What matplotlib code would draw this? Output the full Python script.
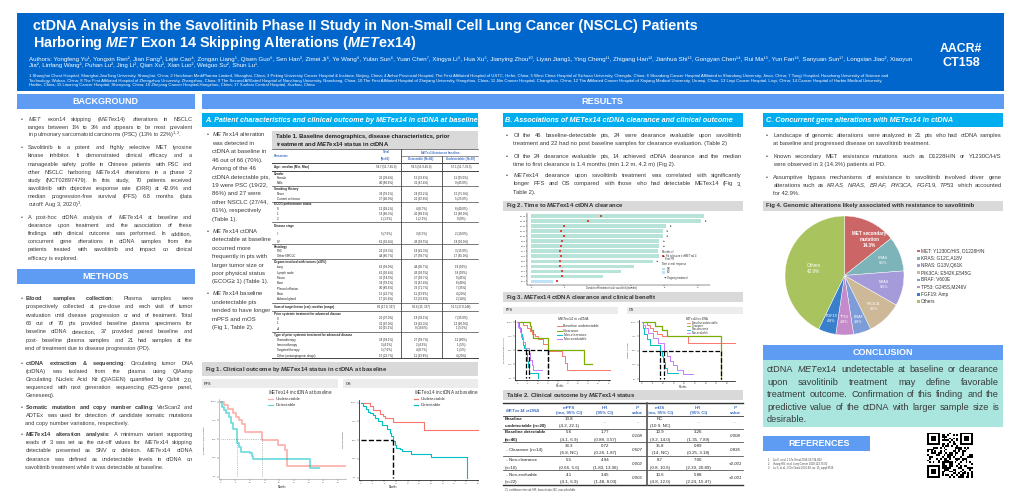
import numpy as np
import matplotlib
matplotlib.use('Agg')
import matplotlib.pyplot as plt
from matplotlib.patches import Rectangle

plt.rcParams['font.family'] = ['Liberation Sans', 'DejaVu Sans']
plt.rcParams['mathtext.fontset'] = 'custom'
plt.rcParams['mathtext.rm'] = 'Liberation Sans'
plt.rcParams['mathtext.it'] = 'Liberation Sans:italic'
plt.rcParams['mathtext.bf'] = 'Liberation Sans:bold'
plt.rcParams['mathtext.bfit'] = 'Liberation Sans:bold:italic'
plt.rcParams['mathtext.default'] = 'regular'

# ---------------- data ----------------
# Fig 1 (baseline METex14 in ctDNA), KM steps: months, survival %
pfs1_und_t = [0, 1.1, 2.6, 4.3, 5.2, 6.4, 7.2, 8.3, 14.0, 19.7, 21.9, 22.5, 42.4]
pfs1_und_s = [100, 95, 90, 85, 80, 75, 70, 60, 49, 42, 36, 14, 14]
pfs1_det_t = [0, 0.5, 1.1, 1.8, 2.7, 3.4, 4.1, 5.5, 5.7, 6.4, 6.8, 10.0, 10.6, 11.1, 30.5, 33.6]
pfs1_det_s = [100, 93, 89, 85, 80, 72, 63, 49, 45, 40, 33, 31, 28, 24, 12, 12]
os1_und_t = [0, 3.2, 4.3, 6.6, 7.5, 8.3, 10.9, 21.6, 40.0]
os1_und_s = [100, 95, 90, 85, 82, 79, 74, 63, 63]
os1_det_t = [0, 0.9, 1.8, 2.6, 3.2, 4.3, 4.9, 6.0, 7.4, 8.8, 10.0, 10.5, 10.9, 11.7, 12.2, 13.4, 14.0, 17.2, 23.8, 36.1]
os1_det_s = [100, 95, 91, 88, 86, 83, 80, 75, 70, 65, 60, 55, 49, 43, 40, 38, 35, 32, 28, 0]

# Fig 3 (ctDNA clearance groups)
pfs3_und_t = [0, 3.0, 4.6, 6.2, 7.0, 8.7, 10.3, 12.8, 15.2, 21.8, 23.4, 24.3, 45.6]
pfs3_und_s = [100, 95, 90, 85, 80, 75, 70, 62, 48, 39, 28, 14, 14]
pfs3_clr_t = [0, 6.2, 6.9, 7.9, 15.2, 32.8, 36.6]
pfs3_clr_s = [100, 92.9, 85.7, 71.4, 50, 25, 25]
pfs3_ncl_t = [0, 1.0, 1.6, 2.1, 2.6, 3.4, 4.1, 4.6, 5.4, 5.9, 10.3]
pfs3_ncl_s = [100, 90, 80, 70, 60, 55, 45, 30, 20, 10, 0]
pfs3_nev_t = [0, 0.5, 1.1, 1.8, 2.6, 3.8, 5.7, 6.2, 7.0, 7.9, 12.0]
pfs3_nev_s = [100, 91, 82, 73, 64, 55, 45, 32, 23, 14, 14]
os3_und_t = [0, 2.3, 3.9, 5.5, 7.0, 9.4, 21.9, 43.7]
os3_und_s = [100, 95, 90, 85, 80, 75, 63, 63]
os3_clr_t = [0, 6.25, 9.4, 11.7, 37.0]
os3_clr_s = [100, 93, 86, 75, 0]
os3_ncl_t = [0, 0.5, 1.1, 2.3, 3.9, 8.6, 9.4, 10.2, 10.9, 12.0, 17.2]
os3_ncl_s = [100, 90, 80, 70, 60, 50, 40, 30, 20, 10, 10]
os3_nev_t = [0, 0.5, 1.6, 3.1, 5.5, 7.8, 10.5, 11.7, 13.3, 14.8, 16.4, 19.5, 24.2]
os3_nev_s = [100, 95, 90, 82, 73, 64, 50, 41, 32, 25, 16, 8, 8]

# Fig 2 swimmer plot
sw_pt = ['Pt %d' % i for i in range(14, 0, -1)]
sw_end = [10.4, 10.2, 8.1, 7.9, 7.9, 7.7, 7.7, 7.6, 7.7, 7.3, 6.2, 5.4, 4.3, 1.3]
sw_clear = [4.2, 3.4, 1.95, 1.8, 1.95, 1.85, 1.8, 1.75, 1.8, 1.75, 1.75, 1.85, 1.85, 1.55]
sw_pr = [2.1, 1.8, 2.05, 1.8, 1.95, 1.85, 1.8, 1.75, 1.8, 1.75, 1.75, 1.85, 1.85, 1.8]
sw_resp = ['PR'] * 13 + ['SD']
sw_ongoing = [1, 1, 1, 1, 1, 1, 1, 0, 1, 1, 0, 0, 0, 0]

# Fig 4 pie
pie_names = ['MET secondary\nmutation', 'KRAS', 'NRAS', 'PIK3CA', 'BRAF', 'TP53', 'FGF19', 'Others']
pie_pct = [14.3, 9.5, 9.5, 9.5, 4.8, 4.8, 4.8, 42.9]
pie_legend = ['MET: Y1230C/H/S, D1228H/N', 'KRAS: G12C,A18V', 'NRAS: G13V,Q61K',
              'PIK3CA: E542K,E545G', 'BRAF: V600E', 'TP53: G245S,M246V', 'FGF19: Amp', 'Others']
pie_colors = ['#CC6666', '#7DB4B9', '#A59BDA', '#CDB998', '#7D9CD8', '#C48AC9', '#3A7FCC', '#A9C35F']

# Table 1
t1_param = ['Age : median (Min, Max)', 'Gender', 'Female', 'Male', 'Smoking History', 'Never',
            'Current or former', 'ECOG performance status', '0', '1', '2', 'Disease stage', 'III', 'IV',
            'Histology', 'PSC', 'Other NSCLC', 'Organs involved with tumors (≥30%)', 'Lung', 'Lymph node',
            'Pleura', 'Bone', 'Pleural effusion', 'Brain', 'Adrenal gland',
            'Sum of target lesion (cm): median (range)', 'Prior systemic treatment for advanced disease',
            '0', '1', '≥2', 'Type of prior systemic treatment for advanced disease', 'Chemotherapy',
            'Immunotherapy', 'Targeted therapy', 'Other (antiangiogenic drugs)']
t1_total = ['58.7 (51.7-65.0)', '', '26 (39.4%)', '40 (60.6%)', '', '39 (59.1%)', '27 (40.9%)', '',
            '12 (18.2%)', '53 (80.3%)', '1 (1.5%)', '', '5 (7.6%)', '61 (92.4%)', '', '22 (33.3%)',
            '44 (66.7%)', '', '62 (93.9%)', '61 (92.4%)', '36 (54.5%)', '39 (59.1%)', '40 (60.6%)',
            '15 (22.7%)', '17 (25.8%)', '86 (17.0, 327)', '', '25 (37.9%)', '31 (47.0%)', '10 (15.1%)',
            '', '38 (58.1%)', '3 (4.5%)', '5 (7.6%)', '15 (22.7%)']
t1_det = ['59.5 (51.9-65.0)', '', '15 (32.6%)', '31 (67.4%)', '', '24 (52.2%)', '22 (47.8%)', '',
          '4 (8.7%)', '41 (89.1%)', '1 (2.2%)', '', '3 (6.5%)', '43 (93.5%)', '', '19 (41.3%)',
          '27 (58.7%)', '', '44 (95.7%)', '43 (93.5%)', '27 (58.7%)', '31 (67.4%)', '33 (71.7%)',
          '11 (23.9%)', '15 (32.6%)', '95.6 (15, 327)', '', '18 (39.1%)', '19 (41.3%)', '9 (19.6%)',
          '', '27 (58.7%)', '2 (4.3%)', '4 (8.7%)', '11 (23.9%)']
t1_und = ['57.1 (51.7-70.5)', '', '11 (55.0%)', '9 (45.0%)', '', '15 (75.0%)', '5 (25.0%)', '',
          '8 (40.0%)', '12 (60.0%)', '0 (0%)', '', '2 (10.0%)', '18 (90.0%)', '', '3 (15.0%)',
          '17 (85.0%)', '', '18 (90%)', '18 (90%)', '9 (45%)', '8 (40%)', '7 (35%)', '4 (20%)',
          '2 (10%)', '51.5 (17.0,148)', '', '7 (35.0%)', '12 (60.0%)', '1 (5.0%)', '', '12 (60%)',
          '1 (5%)', '1 (5%)', '4 (20%)']

# Table 2
t2_group = [['Baseline', 'undetectable (n=20)'], ['Baseline detectable', '(n=46)'],
            [' - Clearance (n=14)'], [' - Non-clearance', '(n=10)'], [' - Non-evaluable', '(n=22)']]
t2_cols = [['mPFS', '(mo, 95% CI)'], ['HR', '(95% CI)'], ['P', 'value'],
           ['mOS', '(mo, 95% CI)'], ['HR', '(95% CI)'], ['P', 'value']]
t2_mpfs = [['13.8', '(4.2, 22.1)'], ['5.6', '(4.1, 6.9)'], ['33.3', '(6.8, NC)'],
           ['5.5', '(0.66, 5.6)'], ['4.1', '(4.1, 6.9)']]
t2_hr_pfs = [['-'], ['1.77', '(0.88, 3.57)'], ['0.72', '(0.28, 1.87)'],
             ['4.94', '(1.83, 13.36)'], ['3.45', '(1.48, 8.03)']]
t2_p_pfs = ['-', '0.108', '0.507', '0.002', '0.006']
t2_mos = [['NC', '(10.9, NC)'], ['10.9', '(9.2, 14.0)'], ['35.8', '(14, NC)'],
          ['8.7', '(0.8, 10.6)'], ['10.6', '(4.8, 12.0)']]
t2_hr_os = [['-'], ['3.26', '(1.35, 7.89)'], ['0.89', '(0.25, 3.18)'],
            ['7.06', '(2.39, 20.89)'], ['5.88', '(2.24, 15.47)']]
t2_p_os = ['-', '0.008', '0.835', '<0.001', '<0.001']

# texts
title1 = 'ctDNA Analysis in the Savolitinib Phase II Study in Non-Small Cell Lung Cancer (NSCLC) Patients'
title2 = r'Harboring $\mathbfit{MET}$ Exon 14 Skipping Alterations ($\mathbfit{MET}$ex14)'
authors1 = ('Authors: Yongfeng Yu¹, Yongxin Ren², Jian Fang³, Lejie Cao⁴, Zongan Liang⁵, Qisen Guo⁶, '
            'Sen Han³, Zimei Ji⁶, Ye Wang⁸, Yulan Sun⁶, Yuan Chen⁷, Xingya Li⁹, Hua Xu⁵, Jianying Zhou¹⁰, '
            'Liyan Jiang1, Ying Cheng¹¹, Zhigang Han¹², Jianhua Shi¹³, Gongyan Chen¹⁴, Rui Ma¹⁵, '
            'Yun Fan¹⁶, Sanyuan Sun¹⁷, Longxian Jiao², Xiaoyun')
authors2 = 'Jia², Linfang Wang², Puhan Lu², Jing Li², Qian Xu², Xian Luo², Weiguo Su², Shun Lu¹.'
affil = ['1 Shanghai Chest Hospital, Shanghai JiaoTong University, Shanghai, China; 2 Hutchison MediPharma Limited, '
         'Shanghai, China; 3 Peking University Cancer Hospital & Institute, Beijing, China; 4 Anhui Provincial Hospital, '
         'The First Affiliated Hospital of USTC, Hefei, China; 5 West China Hospital of Sichuan University, Chengdu, China; '
         '6 Shandong Cancer Hospital Affiliated to Shandong University, Jinan, China; 7 Tongji Hospital, Huazhong University of Science and',
         'Technology, Wuhan, China; 8 The First Affiliated Hospital of Zhengzhou University, Zhengzhou, China; 9 The Second '
         'Affiliated Hospital of Nanchang University, Nanchang, China; 10 The First Affiliated Hospital of Zhejiang University, '
         'Hangzhou, China; 11 Jilin Cancer Hospital, Changchun, China; 12 The Affiliated Cancer Hospital of Xinjiang Medical '
         'University, Urumqi, China; 13 Linyi Cancer Hospital, Linyi, China; 14 Cancer Hospital of Harbin Medical University,',
         'Harbin, China; 15 Liaoning Cancer Hospital, Shenyang, China; 16 Zhejiang Cancer Hospital,Hangzhou, China; '
         '17 Xuzhou Central Hospital, Xuzhou, China']

bg_paras = [
    [r'$\mathit{MET}$ exon14 skipping ($\mathit{MET}$ex14) alterations in NSCLC',
     'ranges between 1% to 3% and appears to be most prevalent',
     r'in pulmonary sarcomatoid carcinoma (PSC) (13% to 22%)$^{1,2}$.'],
    ['Savolitinib is a potent and highly selective MET tyrosine',
     'kinase inhibitor. It demonstrated clinical efficacy and a',
     'manageable safety profile in Chinese patients with PSC and',
     r'other NSCLC harboring $\mathit{MET}$ex14 alterations in a phase 2',
     'study (NCT02897479). In this study, 70 patients received',
     'savolitinib with objective response rate (ORR) at 42.9% and',
     'median progression-free survival (PFS) 6.8 months (data',
     r'cutoff: Aug 3, 2020)$^{3}$.'],
    [r'A post-hoc ctDNA analysis of $\mathit{MET}$ex14 at baseline and',
     'clearance upon treatment and the association of these',
     'findings with clinical outcome was performed. In addition,',
     'concurrent gene alterations in ctDNA samples from the',
     'patients treated with savolitinib and impact on clinical',
     'efficacy is explored.']]
me_paras = [
    [r'$\mathbf{Blood}$ $\mathbf{samples}$ $\mathbf{collection}$: Plasma samples were',
     'prospectively collected at pre-dose and each visit of tumor',
     'evaluation until disease progression or end of treatment. Total',
     '66 out of 70 pts provided baseline plasma specimens for',
     'baseline ctDNA detection, 37 provided paired baseline and',
     'post- baseline plasma samples and 21 had samples at the',
     'end of treatment due to disease progression (PD).'],
    [r'$\mathbf{ctDNA}$ $\mathbf{extraction}$ $\mathbf{&}$ $\mathbf{sequencing}$: Circulating tumor DNA',
     '(ctDNA) was isolated from the plasma using QIAamp',
     'Circulating Nucleic Acid Kit (QIAGEN) quantified by Qubit 2.0,',
     'sequenced with next generation sequencing (425-gene panel,',
     'Geneseeq).'],
    [r'$\mathbf{Somatic}$ $\mathbf{mutation}$ $\mathbf{and}$ $\mathbf{copy}$ $\mathbf{number}$ $\mathbf{calling}$: VarScan2 and',
     'ADTEx was used for detection of candidate somatic mutations',
     'and copy number variations, respectively.'],
    [r'$\mathbfit{MET}\mathbf{ex14}$ $\mathbf{alteration}$ $\mathbf{analysis}$: A minimum variant supporting',
     r'reads of 3 was set as the cut-off values for $\mathit{MET}$ex14 skipping',
     r'detectable presented as SNV or deletion. $\mathit{MET}$ex14 ctDNA',
     'clearance was defined as undetectable levels in ctDNA on',
     'savolitinib treatment while it was detectable at baseline.']]
a_paras = [
    [r'$\mathit{MET}$ex14 alteration', 'was detected in', 'ctDNA at baseline in', '46 out of 66 (70%).',
     'Among of the 46', 'ctDNA detectable pts,', '19 were PSC (19/22,', '86%) and 27 were',
     'other NSCLC (27/44,', '61%), respectively', '(Table 1).'],
    [r'$\mathit{MET}$ex14 ctDNA', 'detectable at baseline', 'occurred more', 'frequently in pts with',
     'larger tumor size or', 'poor physical status', '(ECOG≥ 1) (Table 1).'],
    [r'$\mathit{MET}$ex14 baseline', 'undetectable pts', 'tended to have longer', 'mPFS and mOS',
     '(Fig 1, Table 2).']]
b_paras = [
    ['Of the 46 baseline-detectable pts, 24 were clearance evaluable upon savolitinib',
     'treatment and 22 had no post baseline samples for clearance evaluation. (Table 2)'],
    ['Of the 24 clearance evaluable pts, 14 achieved ctDNA clearance and the median',
     'time to first clearance is 1.4 months (min 1.2 m, 4.2 m) (Fig 2).'],
    [r'$\mathit{MET}$ex14 clearance upon savolitinib treatment was correlated with significantly',
     'longer PFS and OS compared with those who had detectable METex14 (Fig 3,',
     'Table 2).']]
c_paras = [
    ['Landscape of genomic alterations were analyzed in 21 pts who had ctDNA samples',
     'at baseline and progressed disease on savolitinib treatment.'],
    ['Known secondary MET resistance mutations such as D1228H/N or Y1230C/H/S',
     'were observed in 3 (14.3%) patients at PD.'],
    ['Assumptive bypass mechanisms of resistance to savolitinib involved driver gene',
     r'alterations such as $\mathit{KRAS}$, $\mathit{NRAS}$, $\mathit{BRAF}$, $\mathit{PIK3CA}$, '
     r'$\mathit{FGF19}$, $\mathit{TP53}$ which accounted',
     'for 42.9%.']]
concl = [r'ctDNA $\mathit{MET}$ex14 undetectable at baseline or clearance',
         'upon savolitinib treatment may define favorable',
         'treatment outcome. Confirmation of this finding and the',
         'predictive value of the ctDNA with larger sample size is',
         'desirable.']
refs = ['Liu X, et al. J Clin Oncol 2016;34:794-802',
        'Vuong HG, et al. Lung Cancer 2018;123:76-82',
        'Lu S, et al. J Clin Oncol 2020;38, no. 15_suppl 9519.']

# ---------------- canvas ----------------
W, H = 1020, 493
fig = plt.figure(figsize=(W / 100, H / 100), dpi=100)
bg = fig.add_axes([0, 0, 1, 1])
bg.set_xlim(0, W)
bg.set_ylim(H, 0)
bg.set_autoscale_on(False)
bg.axis('off')
R = fig.canvas.get_renderer()

TXT = '#3a3a3a'
DARK = '#0066CC'
BAR = '#5E9CF3'
CYAN = '#00AEEF'
GRAY = '#D9D9D9'
LGRAY = '#ECECEC'
TBLUE = '#3D6FC4'
RED, GREEN, TEAL, PURPLE = '#F8766D', '#7CAE00', '#00BFC4', '#C77CFF'


def box(x0, y0, x1, y1, color):
    bg.add_patch(Rectangle((x0, y0), x1 - x0, y1 - y0, facecolor=color, edgecolor='none'))


def width(t):
    return t.get_window_extent(renderer=R).width


def fit(x0, x1, y, s, center=False, **kw):
    # font size chosen so the text spans x0..x1
    t = bg.text(x0, y, s, fontsize=10, va='center', **kw)
    t.set_fontsize(10 * (x1 - x0) / width(t))
    if center:
        t.set_x((x0 + x1) / 2)
        t.set_ha('center')
    return t


def block_size(blocks, w):
    widest = 0
    for lines in blocks:
        for s in lines[:-1]:
            t = bg.text(0, 0, s, fontsize=10)
            widest = max(widest, width(t))
            t.remove()
    return 10 * w / widest * 0.96


def para(lines, x0, x1, yc, dy, size, bullet=None, justify=True, color=TXT):
    off = 0.46 * size
    for i, s in enumerate(lines):
        y = yc + i * dy + off
        words = s.split()
        if justify and i < len(lines) - 1 and len(words) > 1:
            ts = [bg.text(x0, y, w, fontsize=size, color=color, va='baseline') for w in words]
            ws = [width(t) for t in ts]
            gap = (x1 - x0 - sum(ws)) / (len(words) - 1)
            x = x0
            for t, w in zip(ts, ws):
                t.set_x(x)
                x += w + gap
        else:
            bg.text(x0, y, s, fontsize=size, color=color, va='baseline')
    if bullet is not None:
        bg.text(bullet, yc + off, '•', fontsize=size * 0.9, color=color, va='baseline')


def heading(x0, y0, x1, y1, s, tx0, tx1):
    box(x0, y0, x1, y1, BAR)
    fit(tx0, tx1, (y0 + y1) / 2 + 0.3, s, center=True, color='white', fontweight='bold')


def figbar(x0, y0, x1, y1, s, tx1, color=GRAY):
    box(x0, y0, x1, y1, color)
    fit(x0 + 3, tx1, (y0 + y1) / 2, s, color='#333333', fontweight='bold')


# ---------------- header ----------------
box(17, 13, 1004, 91, DARK)
fit(33, 694, 26, title1, color='white', fontweight='bold')
t = bg.text(33, 43.5, title2, color='white', fontweight='bold', va='center',
            fontsize=bg.texts[-1].get_fontsize())
a1 = fit(29, 908, 58.5, authors1, color='white')
bg.text(29, 65.5, authors2, color='white', fontsize=a1.get_fontsize(), va='center')
f1 = fit(29, 906, 76.3, affil[0], color='white')
fit(29, 906, 80.6, affil[1], color='white')
bg.text(29, 85, affil[2], color='white', fontsize=f1.get_fontsize(), va='center')
fit(940, 982, 48.5, 'AACR#', center=True, color='white', fontweight='bold')
fit(942, 980, 62.5, 'CT158', center=True, color='white', fontweight='bold')

# ---------------- left column ----------------
heading(17, 94, 195, 109, 'BACKGROUND', 72.7, 139)
heading(17, 269, 195, 284, 'METHODS', 82.7, 128.7)
sz = block_size(bg_paras + me_paras, 164)
for lines, y0 in zip(bg_paras, [119, 147.3, 216.7]):
    para(lines, 27.7, 192.3, y0, 8.2, sz, bullet=20.5)
for lines, y0, dy in zip(me_paras, [298.3, 362.7, 406.7, 434], [8.3, 8.15, 8.0, 8.3]):
    para(lines, 25.5, 193, y0, dy, sz, bullet=20.5)

# ---------------- results ----------------
heading(202, 94, 1004, 109, 'RESULTS', 581.7, 623.3)
box(202, 113.3, 478, 126.7, CYAN)
fit(205, 475, 120.2, r'A. Patient characteristics and clinical outcome by METex14 in ctDNA at baseline',
    color='white', fontweight='bold', fontstyle='italic')
box(502.7, 113.3, 743.3, 126.7, CYAN)
fit(505, 735, 120.2, 'B. Associations of METex14 ctDNA clearance and clinical outcome',
    color='white', fontweight='bold', fontstyle='italic')
box(763.3, 113, 1003.3, 126.7, CYAN)
fit(766, 954, 120.0, 'C. Concurrent gene alterations with METex14 in ctDNA',
    color='white', fontweight='bold', fontstyle='italic')

# A text
tmp = bg.text(0, 0, 'tended to have longer', fontsize=10)
asz = 10 * 59 / width(tmp)
tmp.remove()
for lines, y0 in zip(a_paras, [134.3, 230.7, 293.3]):
    para(lines, 211.7, 272, y0, 8.45, asz, bullet=206.3, justify=False)

# B and C text
bsz = block_size(b_paras + c_paras, 228.4)
for lines, y0 in zip(b_paras, [135, 155.7, 175]):
    para(lines, 513.3, 741.7, y0, 8.3, bsz, bullet=506)
for lines, y0 in zip(c_paras, [135, 156, 176.7]):
    para(lines, 773.3, 1001.7, y0, 8.3, bsz, bullet=766)

# ---------------- Table 1 ----------------
t1_y = [167.3, 174, 178.4, 183.3, 189, 194.3, 199.3, 204.3, 209.3, 214.3, 219.3, 226, 234, 241.7,
        246.7, 251.3, 256, 262.3, 267.3, 272.6, 277.9, 283.2, 288.5, 293.8, 299.1, 307.3, 313.7,
        318.5, 323.5, 328.5, 334.7, 339.6, 344.9, 350.2, 355.5]
t1_lines = [149.3, 163.3, 170.5, 186, 202, 222.3, 243.8, 259.3, 302.5, 311.3, 331.5, 358.3]
box(272, 131, 478, 149.3, GRAY)
h1 = fit(276, 451.7, 136.7, 'Table 1. Baseline demographics, disease characteristics, prior',
         color='#222222', fontweight='bold')
bg.text(276, 144, r'treatment and $\mathbfit{MET}$ex14 status in ctDNA', color='#222222',
        fontweight='bold', fontsize=h1.get_fontsize(), va='center')
hs = 2.2
bg.text(274, 155.7, 'Parameter', color=TBLUE, fontsize=hs, fontweight='bold', va='center')
bg.text(386, 152.3, 'Total', color=TBLUE, fontsize=hs, fontweight='bold', va='center', ha='center')
bg.text(386, 159, '(N=66)', color=TBLUE, fontsize=hs, fontweight='bold', va='center', ha='center')
bg.text(440, 152.3, r'$\mathbfit{MET}$ex14 status at baseline', color=TBLUE, fontsize=hs,
        fontweight='bold', va='center', ha='center')
bg.text(421, 159, 'Detectable (N=46)', color=TBLUE, fontsize=hs, fontweight='bold', va='center', ha='center')
bg.text(461, 159, 'Undetectable (N=20)', color=TBLUE, fontsize=hs, fontweight='bold', va='center', ha='center')
for yl in t1_lines:
    bg.plot([272, 478], [yl, yl], color='#444444', lw=0.7 if yl in (163.3, 170.5, 358.3) else 0.5)
bg.plot([401, 478], [155.6, 155.6], color='#444444', lw=0.4)
bg.plot([401, 401], [149.3, 358.3], color='#444444', lw=0.6)
bg.plot([442, 442], [155.6, 358.3], color='#444444', lw=0.6)
for i, p in enumerate(t1_param):
    head = t1_total[i] == '' or i in (0, 25)
    bg.text(274 if head else 277, t1_y[i], p, fontsize=2.2, color='#222222',
            fontweight='bold' if head else 'normal', va='center')
    for xc, v in zip([386, 421, 461], [t1_total[i], t1_det[i], t1_und[i]]):
        bg.text(xc, t1_y[i], v, fontsize=2.05, color='#222222', va='center', ha='center')

# ---------------- Fig 1 ----------------
figbar(201.7, 362.3, 478, 375.7, r'Fig 1. Clinical outcome by $\mathbfit{MET}$ex14 status in ctDNA at baseline', 386.7)
box(201.7, 379, 338.3, 388.3, LGRAY)
box(342.7, 379, 478, 388.3, LGRAY)
bg.text(204, 383.8, 'PFS', fontsize=2.8, color='#555555', fontweight='bold', va='center')
bg.text(345.5, 383.8, 'OS', fontsize=2.8, color='#555555', fontweight='bold', va='center')


def km_axes(px0, ppx, xlim, py0, py100, ylim, xticks, spine='#000000'):
    ppy = (py0 - py100) / 100.0
    left = px0 + xlim[0] * ppx
    right = px0 + xlim[1] * ppx
    top = py0 - ylim[1] * ppy
    bottom = py0 - ylim[0] * ppy
    ax = fig.add_axes([left / W, 1 - bottom / H, (right - left) / W, (bottom - top) / H])
    ax.set_xlim(xlim)
    ax.set_ylim(ylim)
    ax.patch.set_alpha(0)
    for sp in ['top', 'right']:
        ax.spines[sp].set_visible(False)
    for sp in ['left', 'bottom']:
        ax.spines[sp].set_color(spine)
        ax.spines[sp].set_linewidth(0.5)
    ax.tick_params(labelsize=1.6, length=1.2, width=0.3, pad=0.6, colors='#444444')
    ax.set_xticks(xticks)
    ax.set_yticks([0, 25, 50, 75, 100])
    ax.set_yticklabels(['0%', '25%', '50%', '75%', '100%'])
    return ax


def median(t, s):
    for ti, si in zip(t, s):
        if si <= 50:
            return ti
    return None


def km(ax, curves, ls='--', mcolor='black', mlw=0.9):
    meds = []
    for t, s, c, lw, al in curves:
        ax.step(t, s, where='post', color=c, lw=lw, alpha=al, clip_on=False)
        m = median(t, s)
        if m is not None:
            meds.append(m)
    if meds:
        ax.plot([0, max(meds)], [50, 50], ls=ls, color=mcolor, lw=mlw)
        for m in meds:
            ax.plot([m, m], [50, 0], ls=ls, color=mcolor, lw=mlw)


ax = km_axes(220.7, 2.933, (-0.6, 42.6), 476.7, 401.7, (-3.5, 104), range(0, 41, 5), spine='#AAAAAA')
km(ax, [(pfs1_und_t, pfs1_und_s, RED, 1.3, 0.55), (pfs1_det_t, pfs1_det_s, TEAL, 1.3, 0.55)],
   ls=':', mcolor='#888888', mlw=0.5)
ax = km_axes(360.7, 2.933, (-0.6, 40.1), 477.7, 402.7, (-3.5, 104), range(0, 41, 4))
km(ax, [(os1_und_t, os1_und_s, RED, 0.8, 1), (os1_det_t, os1_det_s, TEAL, 0.8, 1)], mlw=1.0)
bg.text(205, 440, 'Progression-Free Survival', rotation=90, fontsize=1.7, color='#333333', ha='center', va='center')
bg.text(343.5, 440, 'Overall Survival', rotation=90, fontsize=1.7, color='#333333', ha='center', va='center')
bg.text(282, 487, 'Months', fontsize=1.9, color='#333333', ha='center', va='center')
bg.text(392.7, 487, 'Months', fontsize=1.9, color='#333333', ha='center', va='center')
for lx, tx in [(268.3, 275.3), (414, 420.7)]:
    bg.text(lx, 392, r'$\mathit{MET}$ex14 in ctDNA at baseline', fontsize=3.3, color='#333333', va='center')
    for yy, c, lab, al in [(399.3, RED, 'Undetectable', 0.6 if lx < 300 else 1),
                           (405, TEAL, 'Detectable', 0.6 if lx < 300 else 1)]:
        bg.plot([lx, lx + 4.5], [yy, yy], color=c, lw=0.9, alpha=al)
        bg.text(tx, yy, lab, fontsize=3.1, color='#333333', va='center')

# ---------------- Fig 2 ----------------
figbar(502.7, 201, 743.3, 210.7, r'Fig 2. Time to $\mathbfit{MET}$ex14 ctDNA clearance', 622.7)
ax2 = fig.add_axes([527 / W, 1 - 284.5 / H, (710 - 527) / W, 71.5 / H])
ppm = 16.67
ax2.set_xlim(-(531 - 527) / ppm, (710 - 531) / ppm)
ax2.set_ylim(14.6, 0.4)
ax2.patch.set_alpha(0)
rows = np.arange(1, 15)
ax2.barh(rows, sw_end, height=0.72, color=['#B7E3D8' if r == 'PR' else '#BFE2F6' for r in sw_resp])
ax2.scatter(sw_clear, rows, marker='s', s=1.6, color='#E0453A', lw=0, zorder=3)
ax2.scatter(sw_pr, rows, marker='P', s=2.2, color='#1B9E77', lw=0, zorder=4)
for r, e, on in zip(rows, sw_end, sw_ongoing):
    if on:
        ax2.annotate('', xy=(e + 0.5, r), xytext=(e + 0.08, r),
                     arrowprops=dict(arrowstyle='->', lw=0.35, color='#333333', mutation_scale=1.5))
ax2.set_yticks(rows)
ax2.set_yticklabels(sw_pt)
ax2.set_xticks(range(0, 11, 2))
for sp in ['top', 'right']:
    ax2.spines[sp].set_visible(False)
for sp in ['left', 'bottom']:
    ax2.spines[sp].set_linewidth(0.3)
ax2.tick_params(labelsize=1.5, length=1, width=0.3, pad=0.5)
bg.text(611.7, 288.3, 'Duration of treatment with savolitinib (months)', fontsize=1.8, color='#333333',
        ha='center', va='center')
lg = 1.8
bg.text(661.7, 251.8, 'Months of', fontsize=lg, color='#333333', va='center')
bg.scatter([663], [255.6], marker='s', s=1.6, color='#E0453A', lw=0)
bg.text(665.5, 255.6, r'First clearance of $\mathit{MET}$ex14', fontsize=lg, color='#333333', va='center')
bg.scatter([663], [259.4], marker='P', s=2.2, color='#1B9E77', lw=0)
bg.text(665.5, 259.4, 'First PR', fontsize=lg, color='#333333', va='center')
bg.text(661.7, 264.3, 'Best overall response', fontsize=lg, color='#333333', va='center')
box(662, 267.6, 665, 270.2, '#B7E3D8')
bg.text(666.5, 268.9, 'PR', fontsize=lg, color='#333333', va='center')
box(662, 271.1, 665, 273.7, '#BFE2F6')
bg.text(666.5, 272.4, 'SD', fontsize=lg, color='#333333', va='center')
bg.annotate('', xy=(666.5, 277.7), xytext=(661.7, 277.7),
            arrowprops=dict(arrowstyle='->', lw=0.35, color='#333333', mutation_scale=1.5))
bg.text(667.5, 277.7, 'Ongoing treatment', fontsize=lg, color='#333333', va='center')

# ---------------- Fig 3 ----------------
figbar(502.7, 292, 743.3, 302.3, r'Fig 3. $\mathbfit{MET}$ex14 ctDNA clearance and clinical benefit', 655)
box(502.7, 306.7, 618.3, 314, LGRAY)
box(626.7, 306.7, 743.3, 314, LGRAY)
bg.text(505.3, 310.4, 'PFS', fontsize=2.6, color='#555555', fontweight='bold', va='center')
bg.text(629.3, 310.4, 'OS', fontsize=2.6, color='#555555', fontweight='bold', va='center')
ax = km_axes(517.3, 2.033, (-1.2, 45.6), 378.3, 322.3, (-3.5, 104), range(0, 46, 5))
km(ax, [(pfs3_und_t, pfs3_und_s, RED, 0.7, 1), (pfs3_clr_t, pfs3_clr_s, GREEN, 0.9, 1),
        (pfs3_ncl_t, pfs3_ncl_s, TEAL, 0.7, 1), (pfs3_nev_t, pfs3_nev_s, PURPLE, 0.7, 1)], mlw=0.9)
ax = km_axes(641.7, 2.133, (-1.2, 43.7), 379, 322.3, (-3.5, 104), range(0, 44, 5))
km(ax, [(os3_und_t, os3_und_s, RED, 0.7, 1), (os3_clr_t, os3_clr_s, GREEN, 0.9, 1),
        (os3_ncl_t, os3_ncl_s, TEAL, 0.7, 1), (os3_nev_t, os3_nev_s, PURPLE, 0.7, 1)], mlw=0.9)
bg.text(505, 350, 'Progression-Free Survival', rotation=90, fontsize=1.6, color='#333333', ha='center', va='center')
bg.text(628.5, 350, 'Overall Survival', rotation=90, fontsize=1.6, color='#333333', ha='center', va='center')
bg.text(560, 386.3, 'Months', fontsize=1.8, color='#333333', ha='center', va='center')
bg.text(683.3, 386.7, 'Months', fontsize=1.8, color='#333333', ha='center', va='center')
leg3 = [(RED, 'Baseline undetectable'), (GREEN, 'Clearance'), (TEAL, 'Non-clearance'), (PURPLE, 'Non-evaluable')]
bg.text(557.3, 318.8, r'$\mathit{MET}$ex14 in ctDNA', fontsize=2.6, color='#333333', va='center')
for yy, (c, lab) in zip([325.8, 330.5, 335, 339.4], leg3):
    bg.plot([557.3, 561.7], [yy, yy], color=c, lw=0.7)
    bg.text(563.3, yy, lab, fontsize=2.6, color='#333333', va='center')
bg.text(685, 318.6, r'$\mathit{MET}$ex14 in ctDNA', fontsize=1.9, color='#333333', va='center')
for yy, (c, lab) in zip([322.9, 326.2, 329.5, 332.8], leg3):
    bg.plot([686.7, 690.5], [yy, yy], color=c, lw=0.6)
    bg.text(691.7, yy, lab, fontsize=1.9, color='#333333', va='center')

# ---------------- Table 2 ----------------
figbar(502.7, 390.3, 743.3, 400.3, r'Table 2. Clinical outcome by $\mathbfit{MET}$ex14 status', 634)
ts2 = 3.2
t2_x = [569, 605, 637.3, 660, 698.3, 735]
t2_mid = [422.2, 436, 449.8, 464, 478.3]
bg.text(505, 410.5, r'$\mathbfit{MET}$ex14 ctDNA', fontsize=ts2, color=TBLUE, fontweight='bold',
        fontstyle='italic', va='center')
for xc, (l1, l2) in zip(t2_x, t2_cols):
    bg.text(xc, 408.3, l1, fontsize=ts2, color=TBLUE, fontweight='bold', va='center', ha='center',
            fontstyle='italic' if l1 == 'P' else 'normal')
    bg.text(xc, 413.3, l2, fontsize=ts2, color=TBLUE, fontweight='bold', va='center', ha='center')
for yl, lw in [(403.3, 1.0), (415.9, 0.6), (429, 0.5), (442.3, 0.5), (455.7, 0.5), (470, 0.5), (484.5, 1.0)]:
    bg.plot([502.7, 743.3], [yl, yl], color='#333333', lw=lw)
bg.plot([646.7, 646.7], [403.3, 484.5], color='#555555', lw=1.2)


def cell(x, ym, lines, ha='center', **kw):
    if len(lines) == 1:
        bg.text(x, ym, lines[0], fontsize=ts2, color='#222222', va='center', ha=ha, **kw)
    else:
        for k, s in enumerate(lines):
            bg.text(x, ym + (k - 0.5) * 7.2, s, fontsize=ts2, color='#222222', va='center', ha=ha, **kw)


for i, ym in enumerate(t2_mid):
    cell(505, ym, t2_group[i], ha='left', fontweight='bold' if i < 2 else 'normal')
    cell(t2_x[0], ym, t2_mpfs[i])
    cell(t2_x[1], ym, t2_hr_pfs[i])
    cell(t2_x[2], ym, [t2_p_pfs[i]], fontstyle='italic' if i else 'normal')
    cell(t2_x[3], ym, t2_mos[i])
    cell(t2_x[4], ym, t2_hr_os[i])
    cell(t2_x[5], ym, [t2_p_os[i]], fontstyle='italic' if i else 'normal')
bg.text(505, 489.5, 'CI, confidence interval; HR, hazard ratio; NC, non-calculable', fontsize=1.9,
        color='#444444', va='center')

# ---------------- Fig 4 pie ----------------
figbar(763.3, 201, 1003.3, 210.7, 'Fig 4. Genomic alterations likely associated with resistance to savolitinib', 976.7)
pa = fig.add_axes([785 / W, 1 - 335 / H, 119 / W, 119 / H])
wedges, _ = pa.pie(pie_pct, colors=pie_colors, startangle=90, counterclock=False, radius=1,
                   wedgeprops=dict(edgecolor='white', linewidth=0.3))
pa.set_xlim(-1, 1)
pa.set_ylim(-1, 1)
pa.set_aspect('auto')
lab_r = [0.68, 0.7, 0.68, 0.72, 0.77, 0.74, 0.76, 0.53]
for wdg, name, pct, rr in zip(wedges, pie_names, pie_pct, lab_r):
    ang = np.deg2rad((wdg.theta1 + wdg.theta2) / 2)
    dx = 0.12 if name.startswith('MET') else 0
    pa.text(rr * np.cos(ang) + dx, rr * np.sin(ang), '%s\n%.1f%%' % (name, pct), ha='center', va='center',
            color='white', fontsize=3.3 if name.startswith('MET') or name == 'Others' else 2.7,
            fontweight='bold' if name.startswith('MET') else 'normal', linespacing=1.25)
for k, (lab, c) in enumerate(zip(pie_legend, pie_colors)):
    yy = 251 + k * 7.2
    box(917, yy - 1.3, 919.6, yy + 1.3, c)
    bg.text(920.7, yy, lab, fontsize=3.4, color='#333333', va='center')

# ---------------- conclusion / references ----------------
heading(762.7, 345, 1003.3, 360, 'CONCLUSION', 852.7, 913.3)
box(762.7, 360, 1003.3, 427.3, '#AAE5DE')
csz = block_size([concl], 232)
para(concl, 767, 999, 369.3, 12.5, csz)
heading(762.7, 435.7, 870, 450.7, 'REFERENCES', 788.3, 850)
for k, s in enumerate(refs):
    bg.text(768.3, 460 + k * 3.9, '%d.' % (k + 1), fontsize=1.9, color='#444444', va='center')
    bg.text(773, 460 + k * 3.9, s, fontsize=1.9, color='#444444', va='center')

# QR code (decorative pattern)
n = 25
seed = np.frombuffer(('AACR CT158 savolitinib METex14 ctDNA ' * 20).encode(), dtype=np.uint8)
qr = np.unpackbits(seed)[:n * n].reshape(n, n) ^ (np.indices((n, n)).sum(0) % 3 == 0)
finder = np.ones((7, 7), dtype=int)
finder[1:6, 1:6] = 0
finder[2:5, 2:5] = 1
for r0, c0 in [(0, 0), (0, n - 7), (n - 7, 0)]:
    qr[max(r0 - 1, 0):r0 + 8, max(c0 - 1, 0):c0 + 8] = 0
    qr[r0:r0 + 7, c0:c0 + 7] = finder
qa = fig.add_axes([926.7 / W, 1 - 478.3 / H, 46 / W, 45.6 / H])
qa.imshow(qr, cmap='gray_r', interpolation='nearest', aspect='auto')
qa.axis('off')

fig.savefig('out.png', dpi=100)
